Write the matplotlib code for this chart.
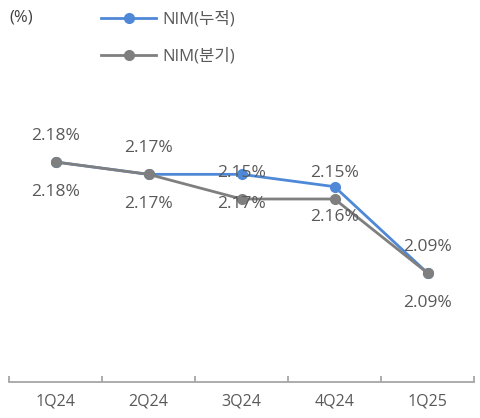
import matplotlib
matplotlib.use("Agg")
import matplotlib.pyplot as plt
from matplotlib.lines import Line2D

plt.rcParams['font.family'] = ['Open Sans', 'Noto Sans CJK KR', 'DejaVu Sans']

categories = ["1Q24", "2Q24", "3Q24", "4Q24", "1Q25"]
nim_cum = [2.18, 2.17, 2.17, 2.16, 2.09]      # NIM(누적)
nim_qtr = [2.18, 2.17, 2.15, 2.15, 2.09]      # NIM(분기)
series_names = ["NIM(누적)", "NIM(분기)"]

blue = "#4E88D6"
gray = "#7F7F7F"
txt = "#595959"

W, H = 480, 418
fig = plt.figure(figsize=(W / 100, H / 100), dpi=100)
ax = fig.add_axes([9 / W, 1 - 382 / H, (474 - 9) / W, (382 - 60) / H])

x = list(range(len(categories)))
ax.plot(x, nim_cum, color=blue, lw=2, marker='o', ms=7, zorder=3)
ax.plot(x, nim_qtr, color=gray, lw=2, marker='o', ms=7, zorder=4)

ax.set_xlim(-0.5, len(categories) - 0.5)
ppu = 111 / 0.09
ymin = 2.18 - (382 - 162) / ppu
ymax = 2.18 + (162 - 60) / ppu
ax.set_ylim(ymin, ymax)

for xi, v in zip(x, nim_qtr):
    ax.annotate(f"{v:.2f}%", (xi, v), xytext=(0, 26 * 0.72), textcoords='offset points',
                ha='center', va='center', fontsize=12.5, color=txt, zorder=5)
for xi, v in zip(x, nim_cum):
    ax.annotate(f"{v:.2f}%", (xi, v), xytext=(0, -30 * 0.72), textcoords='offset points',
                ha='center', va='center', fontsize=12.5, color=txt, zorder=5)

for s in ['top', 'right', 'left']:
    ax.spines[s].set_visible(False)
ax.spines['bottom'].set_color("#A6A6A6")
ax.spines['bottom'].set_linewidth(1.3)
ax.set_yticks([])
ax.set_xticks([i - 0.5 for i in range(len(categories) + 1)])
ax.set_xticklabels([])
ax.set_xticks(x, minor=True)
ax.set_xticklabels(categories, minor=True)
ax.tick_params(axis='x', which='major', direction='in', length=4, color="#A6A6A6", width=1.3)
ax.tick_params(axis='x', which='minor', length=0, pad=8, labelsize=11.5, labelcolor=txt)

fig.text(9 / W, 1 - 17 / H, "(%)", fontsize=12, color="#404040", va='center', ha='left')

handles = [Line2D([0], [0], color=blue, lw=2, marker='o', ms=7),
           Line2D([0], [0], color=gray, lw=2, marker='o', ms=7)]
leg = fig.legend(handles, series_names, loc='upper left', bbox_to_anchor=(86 / W, 1 + 4 / H),
                 frameon=False, fontsize=12, handlelength=3.3, handletextpad=0.4,
                 labelspacing=1.25, labelcolor=txt)

fig.savefig("out.png", dpi=100)
